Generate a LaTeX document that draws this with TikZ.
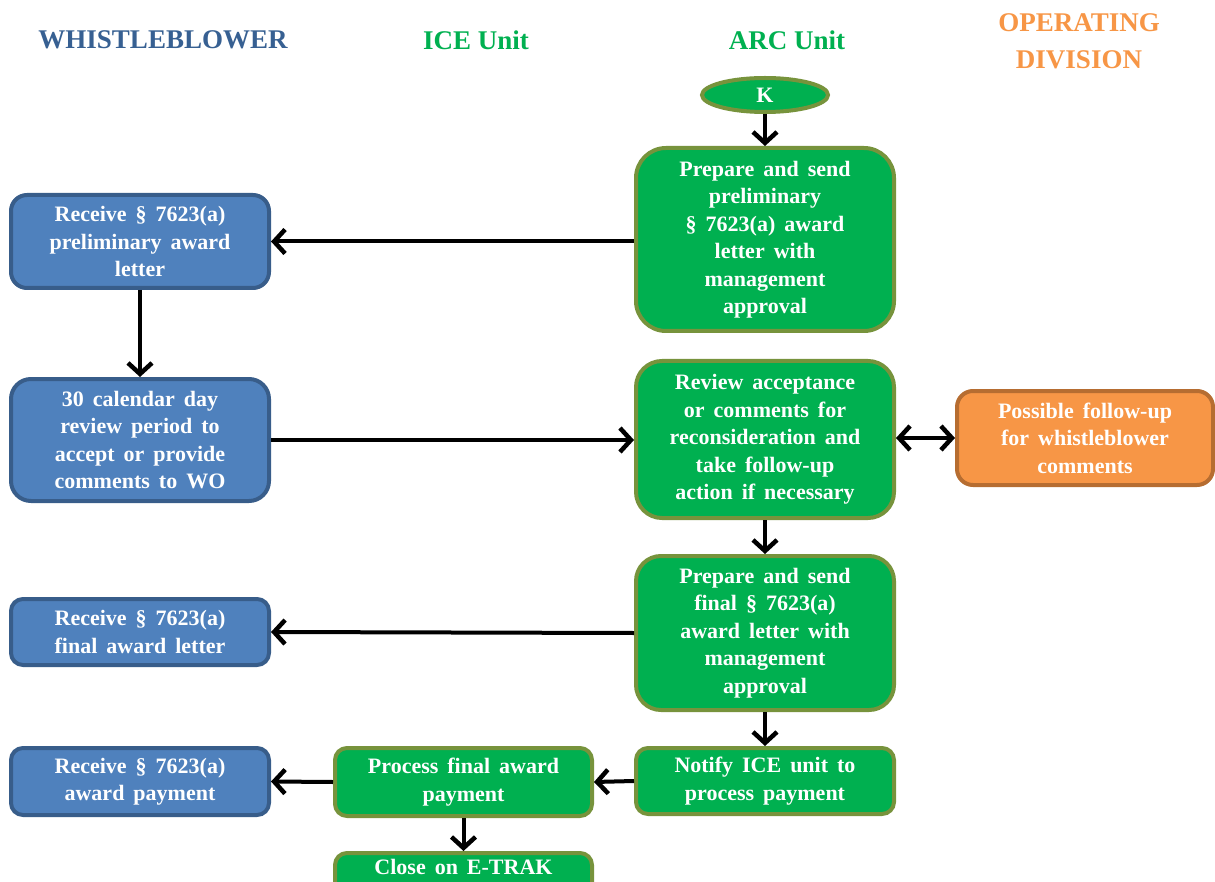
\documentclass[tikz,border=0pt]{standalone}
\usepackage{fontspec}
\setmainfont{Liberation Serif}
\usetikzlibrary{arrows.meta,shapes.geometric}
\definecolor{hblue}{RGB}{55,96,146}
\definecolor{hgreen}{RGB}{0,176,80}
\definecolor{horange}{RGB}{247,150,70}
\definecolor{bfill}{RGB}{79,129,189}
\definecolor{bdraw}{RGB}{56,93,138}
\definecolor{gfill}{RGB}{0,176,80}
\definecolor{gdraw}{RGB}{119,147,60}
\definecolor{ofill}{RGB}{247,150,70}
\definecolor{odraw}{RGB}{182,109,49}
\newcommand{\widespaces}{\spaceskip=9pt plus 2pt\relax}
\tikzset{
  box/.style={line width=4pt, align=center, text=white, inner sep=0pt,
    font=\bfseries\fontsize{22}{27.5}\selectfont, execute at begin node=\widespaces},
  bluebox/.style={box, fill=bfill, draw=bdraw},
  greenbox/.style={box, fill=gfill, draw=gdraw},
  orangebox/.style={box, fill=ofill, draw=odraw},
  hdr/.style={font=\bfseries\fontsize{27}{37}\selectfont, align=center},
  arr/.style={line width=4pt, -{Straight Barb[length=11pt,width=24pt,line width=4.5pt]}},
  darr/.style={line width=4pt, {Straight Barb[length=11pt,width=24pt,line width=4.5pt]}-{Straight Barb[length=11pt,width=24pt,line width=4.5pt]}}
}
\begin{document}
\begin{tikzpicture}[x=1pt,y=-1pt]
\clip (0,0) rectangle (1215,882);
% headers
\node[hdr, text=hblue] (h1) at (163,40) {WHISTLEBLOWER};
\node[hdr, text=hgreen] (h2) at (476,40) {ICE Unit};
\node[hdr, text=hgreen] (h3) at (787,40) {ARC Unit};
\node[hdr, text=horange] (h4) at (1079,41) {OPERATING\\DIVISION};
% K
\node[greenbox, ellipse, minimum width=126pt, minimum height=34pt] (k) at (765,95) {K};
% ARC unit column
\node[greenbox, rounded corners=30pt, minimum width=258pt, minimum height=183pt] (g1) at (765,239.5)
  {Prepare and send\\preliminary\\\S\ 7623(a) award\\letter with\\management\\approval};
\node[greenbox, rounded corners=26pt, minimum width=258pt, minimum height=157pt] (g2) at (765,439.5)
  {Review acceptance\\or comments for\\reconsideration and\\take follow-up\\action if necessary};
\node[greenbox, rounded corners=25pt, minimum width=258pt, minimum height=154pt] (g3) at (765,633)
  {Prepare and send\\final \S\ 7623(a)\\award letter with\\management\\approval};
\node[greenbox, rounded corners=12pt, minimum width=258pt, minimum height=66pt] (g4) at (765,781)
  {Notify ICE unit to\\process payment};
% operating division
\node[orangebox, rounded corners=16pt, minimum width=256pt, minimum height=94pt] (o1) at (1085,438)
  {Possible follow-up\\for whistleblower\\comments};
% whistleblower column
\node[bluebox, rounded corners=16pt, minimum width=258pt, minimum height=93pt] (b1) at (140,241.5)
  {Receive \S\ 7623(a)\\preliminary award\\letter};
\node[bluebox, rounded corners=20pt, minimum width=258pt, minimum height=122pt] (b2) at (140,440)
  {30 calendar day\\review period to\\accept or provide\\comments to WO};
\node[bluebox, rounded corners=12pt, minimum width=258pt, minimum height=66pt] (b3) at (140,632)
  {Receive \S\ 7623(a)\\final award letter};
\node[bluebox, rounded corners=12pt, minimum width=258pt, minimum height=67pt] (b4) at (140,781.5)
  {Receive \S\ 7623(a)\\award payment};
% ICE unit
\node[greenbox, rounded corners=12pt, minimum width=257pt, minimum height=68pt] (g5) at (463.5,782)
  {Process final award\\payment};
\node[greenbox, rounded corners=12pt, minimum width=257pt, minimum height=66pt, anchor=north] (g6) at (463.5,851)
  {\rule{0pt}{0pt}\\[-6pt]Close on E-TRAK\\[28pt]};
% connectors
\draw[arr] (k.south) -- (k.south |- g1.north);
\draw[arr] (g1.west |- b1.east) -- (b1.east);
\draw[arr] (b1.south) -- (b2.north);
\draw[arr] (b2.east) -- (g2.west |- b2.east);
\draw[darr] (g2.east |- o1.west) -- (o1.west);
\draw[arr] (g2.south) -- (g3.north);
\draw[arr] (g3.west) -- (b3.east);
\draw[arr] (g3.south) -- (g4.north);
\draw[arr] (g4.west) -- (g5.east);
\draw[arr] (g5.west) -- (b4.east);
\draw[arr] (g5.south) -- (g6.north);
\end{tikzpicture}
\end{document}
